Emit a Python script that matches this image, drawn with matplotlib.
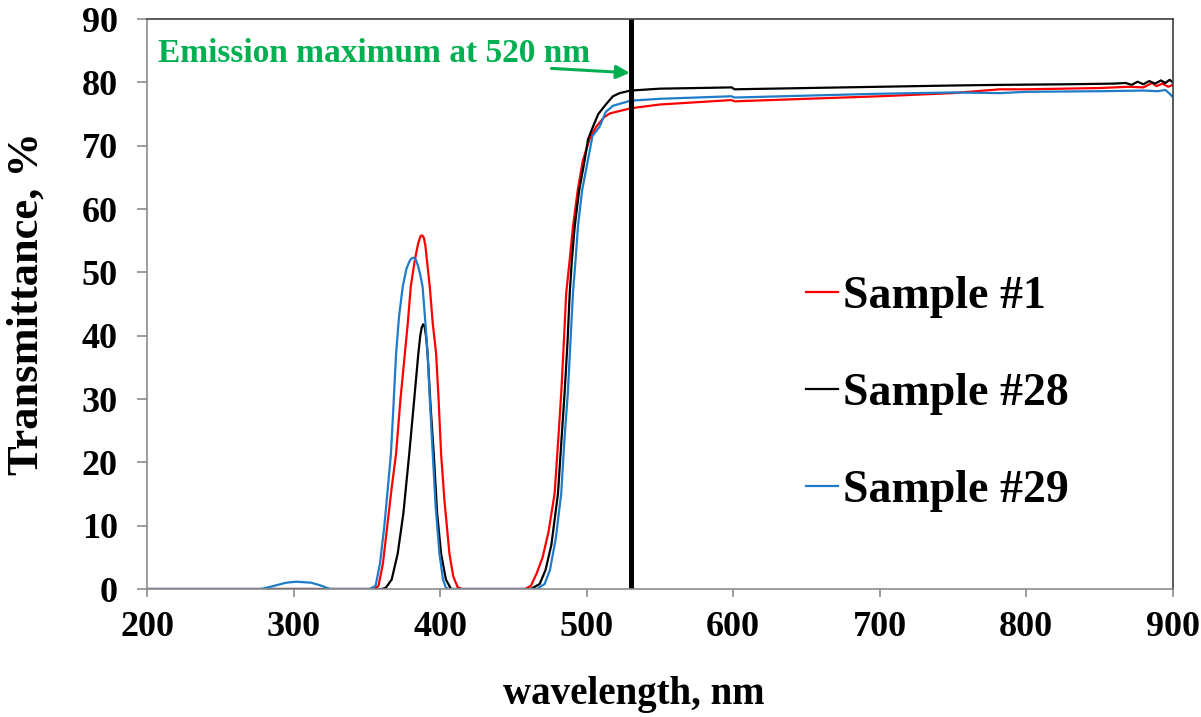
import matplotlib
matplotlib.use("Agg")
import matplotlib.pyplot as plt
import matplotlib.ticker as ticker

plt.rcParams["font.family"] = ["Liberation Serif", "DejaVu Serif"]
plt.rcParams["font.weight"] = "bold"

# Transmittance spectra (wavelength in nm, T in %)
wl_s1 = [200, 355, 358, 361, 364, 367, 370, 373, 376, 378, 380, 382, 383.5, 385, 386.2,
         387, 388, 389, 390, 391, 393, 395, 397.3, 399, 400.7, 403, 406.4, 409, 412, 415,
         458, 462, 466, 470, 474, 478.2, 480.5, 482.7, 484.5, 486.1, 488.5, 490.7,
         494, 497.5, 502, 506.6, 512, 516, 530, 550, 599, 601, 650, 700, 750, 782,
         800, 850, 870, 880, 886, 889, 893, 897, 900]
t_s1 = [0, 0, 0.5, 4, 10, 16, 21.4, 30, 37.2, 42, 47.7, 50.8, 52.8, 54.5, 55.4,
        55.8, 55.8, 55.4, 54.2, 52, 47.7, 42, 37.2, 30, 21.4, 14, 5.6, 2, 0.3, 0,
        0, 0.5, 2.5, 5, 9, 15.1, 23, 30.9, 39, 46.7, 52, 57.2,
        63, 67.7, 71, 73, 74.5, 75.1, 75.9, 76.5, 77.2, 77.0, 77.4, 77.8, 78.3, 78.9,
        78.9, 79.1, 79.3, 79.2, 79.9, 79.4, 79.8, 79.3, 79.6]

wl_s28 = [200, 360, 363, 367, 371.1, 375, 379, 382, 385.2, 386.5, 387.5, 388.5, 389.5,
          390.5, 391.5, 393.5, 395.7, 398, 400.7, 404, 407.5,
          462, 468, 472, 476, 480.5, 483, 485, 487, 488.5, 490, 491.9, 495, 498.7,
          501, 504.4, 508, 513.5, 518, 522.6, 530, 550, 599, 601, 650, 700, 750,
          782, 830, 860, 868, 872, 876, 880, 884, 888, 892, 895, 898, 900]
t_s28 = [0, 0, 0.2, 1.5, 5.6, 12, 21.4, 29, 37.2, 40, 41.3, 41.8, 41.4,
         39.8, 37.2, 29, 21.4, 12, 5.6, 1.5, 0,
         0, 0.8, 3, 7, 15.1, 24, 30.9, 39, 46.7, 52, 57.2, 63, 67.7,
         71, 73, 75, 76.6, 77.8, 78.3, 78.7, 79.0, 79.2, 78.9, 79.1, 79.3, 79.5,
         79.6, 79.7, 79.8, 79.9, 79.6, 80.1, 79.7, 80.2, 79.8, 80.3, 79.9, 80.4, 80.0]

wl_s29 = [200, 278, 285, 295, 302, 312, 318, 325,
          352, 356, 359, 362, 364, 366.5, 368, 370, 372, 374.5, 377, 379, 380.5, 382,
          383.5, 385, 386.5, 388.1, 390, 391.5, 393, 395, 397, 399.6, 402, 404, 406,
          466, 471.4, 475, 479, 482.7, 485, 487.2, 489, 490.7, 492.5, 494.1, 497,
          500.9, 504, 508.9, 513, 518, 530, 550, 599, 601, 650, 700, 750, 782, 800,
          850, 880, 890, 895, 898, 900]
t_s29 = [0, 0, 0.4, 1.0, 1.15, 1.0, 0.6, 0,
         0, 0.5, 4, 10, 15, 21.4, 28, 37.2, 43, 47.7, 50.5, 51.7, 52.2, 52.3,
         52.0, 51.0, 49.6, 47.7, 42, 37.2, 30, 21.4, 13, 5.6, 1.5, 0.2, 0,
         0, 0.8, 3, 8, 15.1, 24, 30.9, 39, 46.7, 52, 57.2, 63,
         67.7, 71.5, 73, 75.3, 76.3, 77.1, 77.4, 77.8, 77.6, 77.9, 78.2, 78.4, 78.3, 78.5,
         78.6, 78.7, 78.6, 78.8, 78.2, 77.7]

emission_nm = 530
note_text = "Emission maximum at 520 nm"

fig = plt.figure(figsize=(12.01, 7.17), dpi=100)
ax = fig.add_axes([0.1224, 0.1785, 0.854, 0.795])

ax.plot(wl_s1, t_s1, color="#ff0000", lw=1.6, label="Sample #1")
ax.plot(wl_s28, t_s28, color="#000000", lw=1.6, label="Sample #28")
ax.plot(wl_s29, t_s29, color="#1f7cc8", lw=1.6, label="Sample #29")

ax.axvline(emission_nm, color="black", lw=3.6)

green = "#00b050"
ax.text(207.5, 83.2, note_text, color=green, fontsize=24, fontweight="bold",
        va="baseline", ha="left")
ax.annotate("", xy=(emission_nm - 0.5, 81.5), xytext=(476, 82.2),
            arrowprops=dict(arrowstyle="-|>,head_length=0.8,head_width=0.4",
                            color=green, lw=2.2, shrinkA=0, shrinkB=0))

ax.set_xlim(200, 900)
ax.set_ylim(0, 90)
ax.xaxis.set_major_locator(ticker.MultipleLocator(100))
ax.yaxis.set_major_locator(ticker.MultipleLocator(10))

for side in ("left", "bottom"):
    ax.spines[side].set_color("#8c8c8c")
    ax.spines[side].set_linewidth(1.2)
for side in ("top", "right"):
    ax.spines[side].set_color("#404040")
    ax.spines[side].set_linewidth(1.2)

ax.tick_params(axis="both", colors="#8c8c8c", labelcolor="black", labelsize=26,
               width=1.2)
ax.tick_params(axis="y", length=7, pad=14)
ax.tick_params(axis="x", length=6, pad=10)
ax.tick_params(top=False, right=False)
for lab in ax.get_xticklabels() + ax.get_yticklabels():
    lab.set_fontweight("bold")

ax.set_xlabel("wavelength, nm", fontsize=28, fontweight="bold")
ax.set_ylabel("Transmittance, %", fontsize=32, fontweight="bold")
ax.xaxis.set_label_coords(0.475, -0.153)
ax.yaxis.set_label_coords(-0.098, 0.5)

leg = ax.legend(loc="center left", bbox_to_anchor=(0.6425, 0.342), frameon=False,
                fontsize=33, handlelength=0.7, handletextpad=0.1,
                labelspacing=1.2, borderpad=0, borderaxespad=0)
for t in leg.get_texts():
    t.set_fontweight("bold")

plt.savefig("out.png", dpi=100)
plt.close(fig)
